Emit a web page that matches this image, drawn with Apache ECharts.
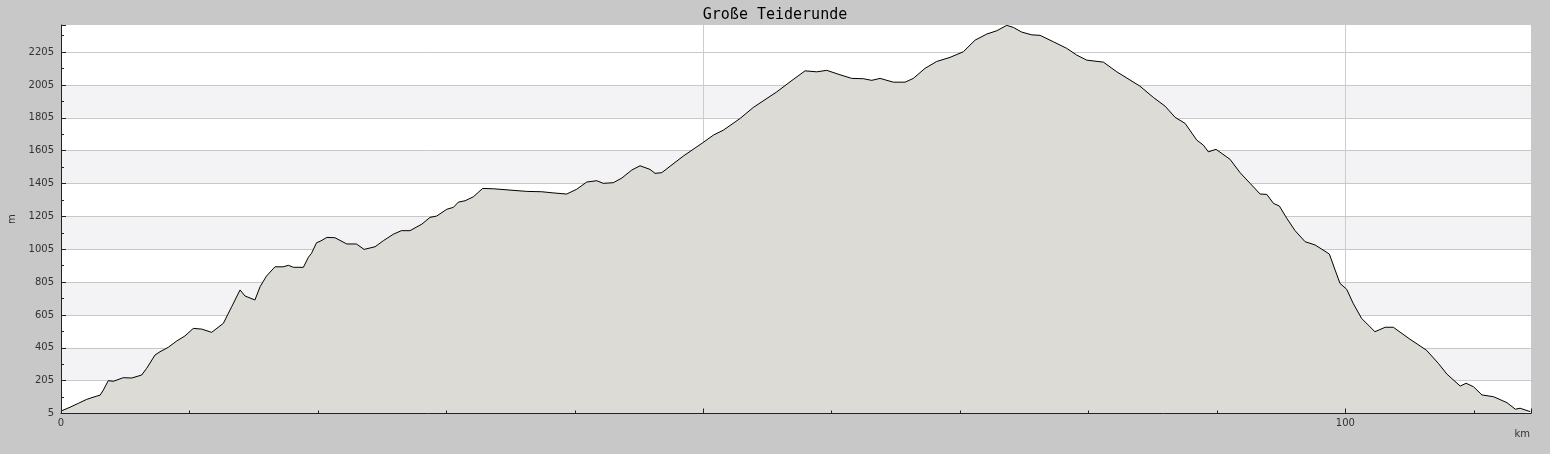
<!DOCTYPE html>
<html>
<head>
<meta charset="utf-8">
<script src="https://cdn.jsdelivr.net/npm/echarts@6/dist/echarts.min.js"></script>
<style>
html,body{margin:0;padding:0;background:#c8c8c8;}
#chart{width:1550px;height:454px;}
</style>
</head>
<body>
<div id="chart"></div>
<script>
const chartTitle = 'Große Teiderunde';
const distanceKm = [
  0, 0.7, 1.35, 2.0, 2.78, 3.04, 3.3, 3.68, 4.07, 4.85, 5.5, 6.28, 6.67, 7.32, 7.71, 8.35, 9.0, 9.65,
  10.3, 10.95, 11.73, 12.64, 13.29, 13.94, 14.33, 15.1, 15.5, 16.0, 16.66, 17.3, 17.7, 18.1, 18.87,
  19.26, 19.5, 19.9, 20.17, 20.7, 21.33, 22.25, 23.0, 23.6, 24.45, 25.1, 25.87, 26.5, 27.17, 28.1,
  28.73, 29.25, 30.03, 30.55, 30.94, 31.46, 32.1, 32.83, 33.66, 34.96, 36.26, 37.43, 38.3, 39.37,
  40.15, 40.93, 41.71, 42.22, 43.0, 43.66, 44.44, 45.08, 45.86, 46.25, 46.77, 48.45, 49.96, 50.8,
  51.57, 52.87, 53.9, 55.73, 56.76, 57.93, 58.84, 59.62, 60.65, 61.56, 62.47, 63.12, 63.77, 64.8,
  65.72, 66.36, 67.27, 68.18, 69.22, 70.25, 71.17, 72.08, 72.86, 73.63, 74.15, 74.8, 75.58, 76.23,
  77.26, 78.3, 79.08, 79.86, 81.16, 82.2, 84.0, 85.05, 85.96, 86.74, 87.52, 88.43, 88.94, 89.33,
  89.93, 91.02, 91.8, 92.58, 93.36, 93.88, 94.4, 94.86, 95.44, 96.08, 96.86, 97.64, 98.75, 99.2,
  99.58, 100.1, 100.6, 101.26, 102.3, 103.1, 103.73, 105.03, 106.3, 107.24, 107.9, 108.94, 109.4,
  109.97, 110.63, 111.54, 112.58, 113.23, 113.6, 114.4
];
const elevationM = [
  20, 43, 67, 91, 111, 116, 148, 205, 201, 223, 221, 239, 280, 361, 381, 408, 446, 477,
  523, 519, 499, 554, 655, 757, 720, 696, 777, 842, 898, 898, 907, 895, 895,
  956, 980, 1045, 1053, 1077, 1075, 1037, 1037, 1004, 1020, 1057, 1096, 1118, 1118, 1158,
  1199, 1207, 1248, 1260, 1292, 1300, 1324, 1375, 1373, 1365, 1357, 1355, 1348, 1341,
  1370, 1414, 1422, 1406, 1410, 1438, 1487, 1513, 1491, 1467, 1471, 1572, 1653, 1700,
  1730, 1801, 1868, 1963, 2024, 2091, 2085, 2094, 2067, 2045, 2043, 2033, 2045, 2022,
  2022, 2045, 2106, 2148, 2173, 2207, 2278, 2315, 2335, 2368, 2355, 2327, 2310, 2307,
  2268, 2228, 2187, 2156, 2144, 2085, 1998, 1929, 1876, 1808, 1771, 1669, 1639, 1598,
  1613, 1552, 1471, 1406, 1341, 1339, 1284, 1268, 1193, 1118, 1051, 1031, 976, 878,
  797, 761, 676, 584, 503, 530, 530, 457, 391, 310, 245, 172, 189,
  168, 118, 107, 71, 31, 37, 16
];
const yTickLabels = [5, 205, 405, 605, 805, 1005, 1205, 1405, 1605, 1805, 2005, 2205];
const xTickLabels = [0, 100];
const shadedBandLows = [205, 605, 1005, 1405, 1805];
const bandHeight = 200;

const chart = echarts.init(document.getElementById('chart'));
const profile = distanceKm.map((d, i) => [d, elevationM[i]]);
const bands = shadedBandLows.map(lo => [{ yAxis: lo }, { yAxis: lo + bandHeight }]);

const font = { fontFamily: 'DejaVu Sans', fontSize: 10, color: '#333' };
const xBase = { type: 'value', min: 0, max: 114.45, interval: 50 };
const yBase = { type: 'value', min: 5, max: 2370, interval: 200 };

chart.setOption({
  backgroundColor: '#c8c8c8',
  animation: false,
  title: {
    text: chartTitle,
    left: 'center',
    top: 3,
    textStyle: { fontFamily: 'DejaVu Sans Mono', fontSize: 15, fontWeight: 'normal', color: '#000' }
  },
  grid: {
    left: 61, right: 19, top: 25, bottom: 40.5,
    outerBoundsMode: 'none', containLabel: false,
    show: true, backgroundColor: '#ffffff', borderWidth: 0
  },
  xAxis: [
    Object.assign({}, xBase, {
      z: 2,
      axisLine: { show: false }, axisTick: { show: false }, axisLabel: { show: false },
      splitLine: { show: true, showMinLine: false, showMaxLine: false, lineStyle: { color: '#cccccc', width: 1 } }
    }),
    Object.assign({}, xBase, {
      z: 10, position: 'bottom',
      name: 'km', nameLocation: 'end', nameGap: -1,
      nameTextStyle: Object.assign({}, font, { align: 'right', verticalAlign: 'top', padding: [16, 0, 0, 0] }),
      axisLine: { show: true, lineStyle: { color: '#222', width: 1 } },
      axisTick: { show: true, inside: true, length: 5, lineStyle: { color: '#222' } },
      minorTick: { show: true, splitNumber: 5, length: 3, lineStyle: { color: '#222' } },
      axisLabel: Object.assign({}, font, {
        margin: 5, showMaxLabel: false,
        formatter: v => xTickLabels.includes(v) ? String(v) : ''
      }),
      splitLine: { show: false }
    })
  ],
  yAxis: [
    Object.assign({}, yBase, {
      z: 2,
      axisLine: { show: false }, axisTick: { show: false }, axisLabel: { show: false },
      splitLine: { show: true, showMinLine: false, showMaxLine: false, lineStyle: { color: '#c8c8c8', width: 1 } }
    }),
    Object.assign({}, yBase, {
      z: 10, position: 'left', offset: 0,
      name: 'm', nameLocation: 'middle', nameGap: 44,
      nameTextStyle: font,
      axisLine: { show: true, lineStyle: { color: '#222', width: 1 } },
      axisTick: { show: true, inside: true, length: 5, lineStyle: { color: '#222' } },
      minorTick: { show: true, splitNumber: 2, length: 3, lineStyle: { color: '#222' } },
      axisLabel: Object.assign({}, font, {
        margin: 7, showMaxLabel: false,
        formatter: v => yTickLabels.includes(v) ? String(v) : ''
      }),
      splitLine: { show: false }
    })
  ],
  series: [
    {
      type: 'line', data: [], z: 1, silent: true, xAxisIndex: 0, yAxisIndex: 0,
      markArea: { silent: true, itemStyle: { color: '#f3f2f5' }, data: bands }
    },
    {
      type: 'line', data: profile, z: 3, symbol: 'none', showSymbol: false,
      xAxisIndex: 0, yAxisIndex: 0,
      lineStyle: { color: '#000', width: 1 },
      areaStyle: { color: '#dcdbd6', opacity: 1 }
    }
  ]
});
</script>
</body>
</html>
